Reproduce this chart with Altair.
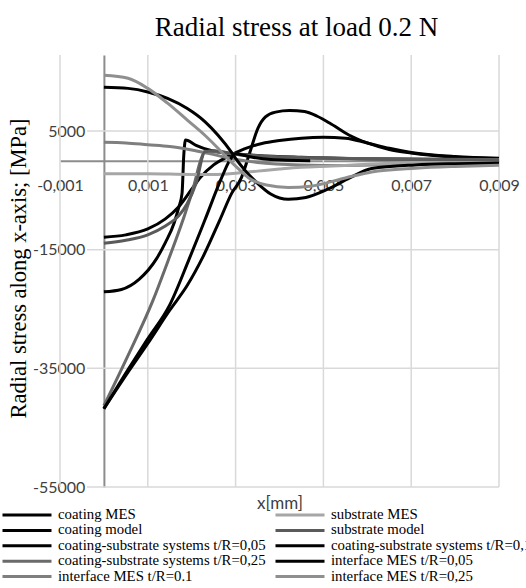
import altair as alt
import pandas as pd

# ---------------- data (x in mm, radial stress in MPa) ----------------
# legend order (filled column by column: left column first, then right column)
series_names = [
    "coating MES",
    "coating model",
    "coating-substrate systems t/R=0,05",
    "coating-substrate systems t/R=0,25",
    "interface MES t/R=0.1",
    "substrate MES",
    "substrate model",
    "coating-substrate systems t/R=0,1",
    "interface MES t/R=0,05",
    "interface MES t/R=0,25",
]
series_colors = ["#000000", "#000000", "#000000", "#6a6a6a", "#7f7f7f",
                 "#a6a6a6", "#5a5a5a", "#000000", "#000000", "#8f8f8f"]
series_widths = [3, 3, 3, 3, 1.5, 3, 3, 3, 1.5, 1.5]

coating_mes_x = [0, 0.0005, 0.001, 0.0015, 0.0019, 0.00225, 0.00264, 0.00291, 0.00313, 0.00332,
                 0.00351, 0.00368, 0.00391, 0.00423, 0.00457, 0.00486, 0.00514, 0.00559, 0.006,
                 0.0065, 0.007, 0.008, 0.009]
coating_mes_y = [-41800, -36200, -30800, -25200, -21000, -16300, -10000, -5500, -2900, 1300,
                 5500, 7400, 8200, 8450, 8300, 7500, 6350, 4300, 3000,
                 1900, 1300, 600, 350]

coating_model_x = [0, 0.0004, 0.0008, 0.0012, 0.0014, 0.0016, 0.0017, 0.00178, 0.00182, 0.00186,
                   0.0021, 0.0024, 0.0028, 0.0035, 0.0045, 0.006, 0.0075, 0.009]
coating_model_y = [-22100, -21700, -20000, -16500, -13800, -10500, -8000, -5500, 1000, 3500,
                   2600, 1800, 1300, 900, 600, 350, 250, 200]

cs005_x = [0, 0.0005, 0.001, 0.0014, 0.0017, 0.002, 0.0022, 0.0025, 0.0028, 0.0032, 0.0036,
           0.004, 0.0045, 0.005, 0.0055, 0.006, 0.0065, 0.007, 0.008, 0.009]
cs005_y = [-12900, -12500, -11500, -9800, -7800, -4800, -2800, -700, 600, 2000, 2900,
           3400, 3800, 3950, 3800, 3000, 2100, 1400, 700, 400]

cs025_x = [0, 0.0005, 0.00112, 0.00145, 0.0018, 0.00202, 0.00222, 0.0023, 0.0025, 0.003,
           0.004, 0.005, 0.006, 0.0075, 0.009]
cs025_y = [-41300, -33600, -23500, -17100, -10000, -5000, 400, 1600, 1500, 1100,
           650, 450, 350, 250, 200]

if01_x = [0, 0.0005, 0.001, 0.0015, 0.002, 0.0024, 0.0029, 0.0035, 0.0045, 0.0055, 0.007, 0.009]
if01_y = [3100, 3000, 2700, 2400, 1800, 1200, 400, -300, -700, -800, -600, -500]

substrate_mes_x = [0, 0.001, 0.002, 0.0025, 0.003, 0.0035, 0.004, 0.0045, 0.0052, 0.006, 0.007, 0.008, 0.009]
substrate_mes_y = [-2200, -2200, -2300, -2300, -2100, -1750, -1400, -1100, -900, -600, -300, -100, 0]

substrate_model_x = [0, 0.0005, 0.001, 0.0014, 0.0017, 0.0019, 0.0021, 0.0023, 0.0025, 0.003,
                     0.004, 0.005, 0.006, 0.0075, 0.009]
substrate_model_y = [-13900, -13400, -12500, -11000, -9300, -7200, -3800, 1500, 1700, 1100,
                     600, 400, 300, 200, 150]

cs01_x = [0, 0.0005, 0.001, 0.0015, 0.00193, 0.0023, 0.00268, 0.00286, 0.003, 0.0033, 0.0038, 0.0047]
cs01_y = [-41800, -35800, -30000, -24300, -16800, -10000, -2900, 0, 1200, 700, 200, 0]

if005_x = [0, 0.00055, 0.001, 0.00145, 0.0019, 0.0023, 0.0026, 0.0029, 0.003, 0.0032, 0.0035,
           0.0038, 0.0042, 0.0046, 0.0051, 0.0056, 0.0061, 0.0071, 0.008, 0.009]
if005_y = [12400, 12200, 11600, 10500, 8800, 6600, 4300, 1500, 400, -1500, -3800,
           -5600, -6500, -6200, -4800, -2900, -1300, -700, -500, -400]

if025_x = [0, 0.00055, 0.001, 0.00145, 0.0019, 0.0023, 0.0026, 0.0028, 0.003, 0.0033, 0.0037,
           0.0042, 0.0047, 0.0055, 0.0061, 0.0071, 0.008, 0.009]
if025_y = [14400, 13900, 12200, 9700, 6850, 4300, 2100, 500, -900, -2900, -4100,
           -4500, -4300, -2900, -1900, -1250, -950, -750]

x_ticks = [-0.001, 0.001, 0.003, 0.005, 0.007, 0.009]
y_ticks = [5000, -15000, -35000, -55000]

all_x = [coating_mes_x, coating_model_x, cs005_x, cs025_x, if01_x,
         substrate_mes_x, substrate_model_x, cs01_x, if005_x, if025_x]
all_y = [coating_mes_y, coating_model_y, cs005_y, cs025_y, if01_y,
         substrate_mes_y, substrate_model_y, cs01_y, if005_y, if025_y]

rows = []
for name, xs, ys in zip(series_names, all_x, all_y):
    for i, (a, b) in enumerate(zip(xs, ys)):
        rows.append({"series": name, "x": a, "y": b, "i": i})
df = pd.DataFrame(rows)

# ---------------- chart ----------------
W, H = 439, 432
X_DOMAIN = [-0.001, 0.009]
Y_DOMAIN = [-55000, 17826]
x_zero_px = W * (0 - X_DOMAIN[0]) / (X_DOMAIN[1] - X_DOMAIN[0])
y_zero_px = H * (Y_DOMAIN[1] - 0) / (Y_DOMAIN[1] - Y_DOMAIN[0])

xscale = alt.Scale(domain=X_DOMAIN, nice=False, zero=False)
yscale = alt.Scale(domain=Y_DOMAIN, nice=False, zero=False)

X_TITLE = "x[mm]"
Y_TITLE = "Radial stress along x-axis; [MPa]"

GRID = "#d9d9d9"
vgrid = alt.Chart(pd.DataFrame({"t": x_ticks})).mark_rule(color=GRID, strokeWidth=1.5).encode(
    x=alt.X("t:Q", scale=xscale, title=X_TITLE)
)
hgrid = alt.Chart(pd.DataFrame({"t": y_ticks})).mark_rule(color=GRID, strokeWidth=1.5).encode(
    y=alt.Y("t:Q", scale=yscale, title=Y_TITLE),
    x=alt.value(27),
    x2=alt.value(W),
)

legend = alt.Legend(
    title=None,
    orient="none",
    legendX=-59,
    legendY=453,
    columns=2,
    symbolType="stroke",
    symbolSize=2401,
    clipHeight=14,
    rowPadding=0.4,
    columnPadding=8,
    labelFont="Liberation Serif",
    labelFontSize=14.8,
    labelColor="#000000",
    labelLimit=400,
    labelOffset=5,
    padding=0,
)

lines = alt.Chart(df).mark_line(interpolate="monotone").encode(
    x=alt.X(
        "x:Q", scale=xscale, title=X_TITLE,
        axis=alt.Axis(
            values=x_ticks, grid=False, ticks=False,
            domainColor="#8c8c8c", domainWidth=2, offset=-(H - y_zero_px),
            labelExpr="replace(datum.value + '', '.', ',')",
            labelFont="Lato", labelFontSize=16, labelColor="#404040",
            labelPadding=17, labelFlush=False, labelOverlap=False, labelBound=False,
            titleFont="Lato", titleFontSize=17, titleFontWeight="normal", titleColor="#404040",
            titleX=W / 2, titleY=343, titleBaseline="middle", titleAlign="center",
        ),
    ),
    y=alt.Y(
        "y:Q", scale=yscale, title=Y_TITLE,
        axis=alt.Axis(
            values=y_ticks, grid=False, ticks=False,
            domainColor="#8c8c8c", domainWidth=2, offset=-x_zero_px,
            labelExpr="datum.value + ''",
            labelFont="Lato", labelFontSize=16, labelColor="#404040",
            labelPadding=19, labelFlush=False, labelOverlap=False, labelBound=False,
            titleFont="Liberation Serif", titleFontSize=22.5, titleFontWeight="normal",
            titleColor="#000000", titleX=-42 - x_zero_px, titleY=213,
            titleBaseline="middle", titleAlign="center", titleAngle=270,
        ),
    ),
    color=alt.Color("series:N", scale=alt.Scale(domain=series_names, range=series_colors), legend=legend),
    strokeWidth=alt.StrokeWidth("series:N", scale=alt.Scale(domain=series_names, range=series_widths), legend=legend),
    order=alt.Order("i:Q"),
)

chart = alt.layer(vgrid, hgrid, lines).properties(
    width=W,
    height=H,
    padding={"left": 60, "top": 55, "right": 27, "bottom": 101},
    autosize=alt.AutoSizeParams(type="none"),
    background="white",
    title=alt.TitleParams(
        "Radial stress at load 0.2 N", font="Liberation Serif", fontSize=27,
        fontWeight="normal", color="#000000", anchor="middle", dx=17, offset=12,
    ),
).configure_view(stroke=None)

chart.save("out.html", embed_options={"renderer": "svg", "actions": False})
